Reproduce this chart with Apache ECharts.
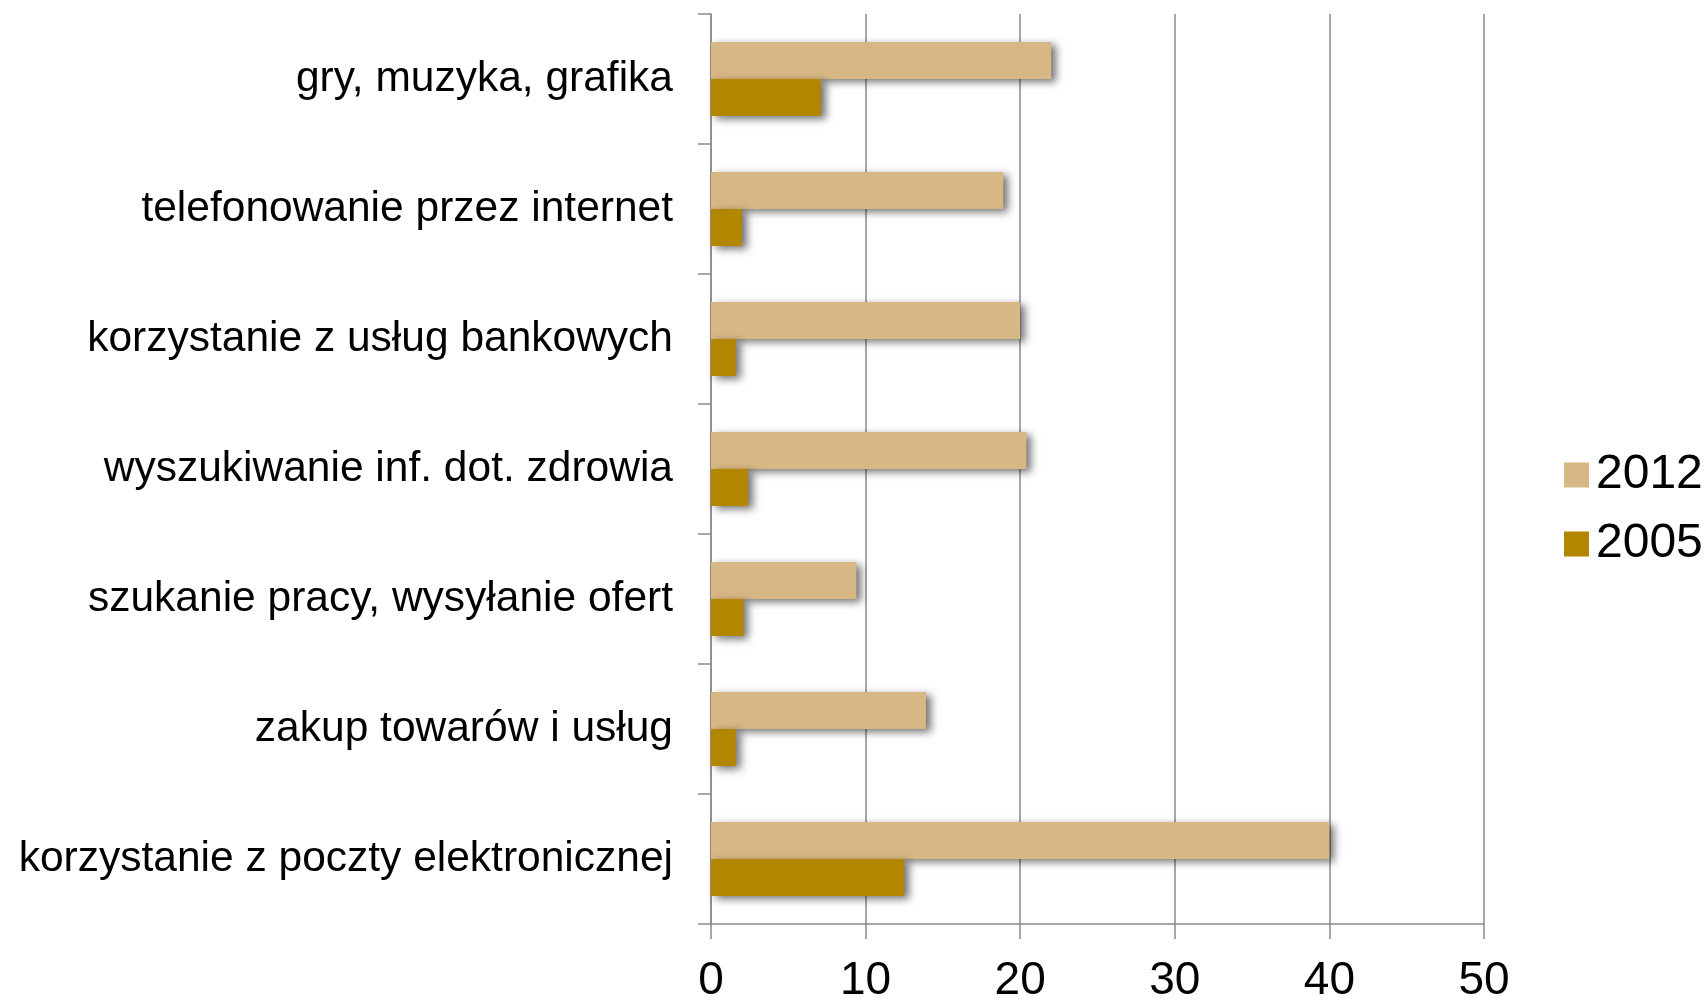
<!DOCTYPE html>
<html>
<head>
<meta charset="utf-8">
<script src="https://cdn.jsdelivr.net/npm/echarts@6/dist/echarts.min.js"></script>
<style>
  html, body { margin: 0; padding: 0; background: #fff; }
  #myChart { width: 1707px; height: 1004px; }
</style>
</head>
<body>
<div id="myChart"></div>
<script>
// kategorie (od góry)
var categories = [
  'gry, muzyka, grafika',
  'telefonowanie przez internet',
  'korzystanie z usług bankowych',
  'wyszukiwanie inf. dot. zdrowia',
  'szukanie pracy, wysyłanie ofert',
  'zakup towarów i usług',
  'korzystanie z poczty elektronicznej'
]
var years = ['2012', '2005']
var values2012 = [22.0, 18.9, 20.0, 20.4, 9.4, 13.9, 40.0]
var values2005 = [7.1, 2.0, 1.6, 2.4, 2.1, 1.6, 12.5]
var xTicks = [0, 10, 20, 30, 40, 50]

var axisGray = '#8a8a8a'
var font = 'Liberation Sans, Arial, sans-serif'
var shadow = { shadowColor: 'rgba(0,0,0,0.55)', shadowBlur: 8, shadowOffsetX: 5, shadowOffsetY: 3 }

var myChart = echarts.init(document.getElementById('myChart'))
myChart.setOption({
  animation: false,
  backgroundColor: '#fff',
  grid: { left: 711, right: 223, top: 14, bottom: 77, containLabel: false },
  legend: {
    data: years,
    orient: 'vertical',
    left: 1559,
    top: 446,
    icon: 'rect',
    itemWidth: 25,
    itemHeight: 25,
    itemGap: 21,
    textStyle: { fontSize: 48, fontFamily: font, color: '#000', lineHeight: 48, padding: [0, 0, 0, 2] }
  },
  xAxis: {
    type: 'value',
    min: xTicks[0],
    max: xTicks[xTicks.length - 1],
    interval: 10,
    axisLine: { show: true, lineStyle: { color: axisGray, width: 1.5 } },
    axisTick: { show: true, length: 15, lineStyle: { color: axisGray, width: 1.5 } },
    splitLine: { show: true, lineStyle: { color: axisGray, width: 1.5 } },
    axisLabel: { fontSize: 46, fontFamily: font, color: '#000', margin: 34 }
  },
  yAxis: {
    type: 'category',
    inverse: true,
    data: categories,
    axisLine: { show: true, lineStyle: { color: axisGray, width: 1.5 } },
    axisTick: { show: true, length: 13, lineStyle: { color: axisGray, width: 1.5 } },
    axisLabel: { fontSize: 42.5, fontFamily: font, color: '#000', margin: 38, padding: [8, 0, 0, 0] }
  },
  series: [
    {
      name: years[0],
      type: 'bar',
      data: values2012,
      barWidth: 37,
      barGap: '0%',
      itemStyle: Object.assign({ color: '#D7B784' }, shadow)
    },
    {
      name: years[1],
      type: 'bar',
      data: values2005,
      barWidth: 37,
      barGap: '0%',
      itemStyle: Object.assign({ color: '#B38600' }, shadow)
    }
  ]
})
</script>
</body>
</html>
